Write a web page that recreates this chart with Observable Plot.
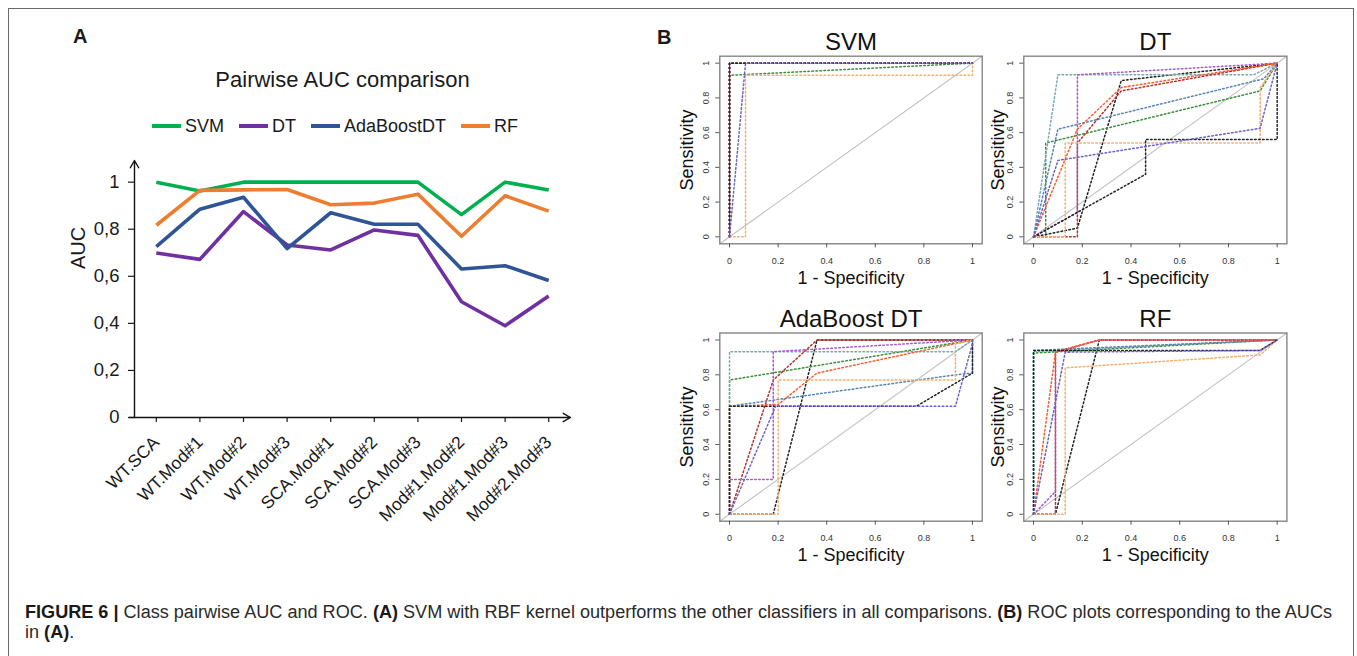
<!DOCTYPE html>
<html>
<head>
<meta charset="utf-8">
<script src="https://cdn.jsdelivr.net/npm/d3@7"></script>
<script src="https://cdn.jsdelivr.net/npm/@observablehq/plot@0.6"></script>
<style>
  html, body { margin: 0; padding: 0; background: #fff; }
  #page { position: relative; width: 1357px; height: 656px; overflow: hidden; background: #fff;
          font-family: "Liberation Sans", Arial, Helvetica, sans-serif; color: #1a1a1a; }
  .abs { position: absolute; }
  #frame { left: 8px; top: 8px; width: 1346px; height: 700px; border: 1.5px solid #6a6a6a; box-sizing: border-box; }
  .panelLabel { font-weight: bold; font-size: 20px; line-height: 20px; }
  #titleA { left: 0; width: 685px; top: 67px; text-align: center; font-size: 22px; line-height: 26px; }
  #legendA { left: 152px; top: 114px; display: flex; align-items: center; font-size: 18px; line-height: 24px; }
  .legItem { display: flex; align-items: center; margin-right: 15px; }
  .legSw { width: 29px; height: 4px; margin-right: 4px; }
  .capLine { left: 25px; font-size: 18px; line-height: 18px; white-space: nowrap; color: #2a2a2a; transform-origin: 0 0; }
  .capLine b { color: #1a1a1a; }
</style>
</head>
<body>
<div id="page">
  <div id="frame" class="abs"></div>
  <div class="abs panelLabel" style="left:73px; top:25.5px;">A</div>
  <div class="abs panelLabel" style="left:657px; top:26.5px;">B</div>
  <div id="titleA" class="abs">Pairwise AUC comparison</div>
  <div id="legendA" class="abs"></div>
  <div id="chartA" class="abs" style="left:0; top:140px;"></div>
  <div id="rocSVM" class="abs" style="left:680px; top:20px;"></div>
  <div id="rocDT" class="abs" style="left:980px; top:20px;"></div>
  <div id="rocADA" class="abs" style="left:680px; top:297px;"></div>
  <div id="rocRF" class="abs" style="left:980px; top:297px;"></div>
  <div id="cap1" class="abs capLine" style="top:603px;"><b>FIGURE 6 |</b> Class pairwise AUC and ROC. <b>(A)</b> SVM with RBF kernel outperforms the other classifiers in all comparisons. <b>(B)</b> ROC plots corresponding to the AUCs</div>
  <div id="cap2" class="abs capLine" style="top:623px;">in <b>(A)</b>.</div>
</div>
<script>
// ---------- Panel A data ----------
const categories = ["WT.SCA", "WT.Mod#1", "WT.Mod#2", "WT.Mod#3", "SCA.Mod#1", "SCA.Mod#2", "SCA.Mod#3", "Mod#1.Mod#2", "Mod#1.Mod#3", "Mod#2.Mod#3"];
const models = ["SVM", "DT", "AdaBoostDT", "RF"];
const aucSVM = [1.0, 0.962, 1.0, 1.0, 1.0, 1.0, 1.0, 0.862, 1.0, 0.967];
const aucDT = [0.699, 0.672, 0.875, 0.733, 0.712, 0.797, 0.774, 0.492, 0.390, 0.516];
const aucAda = [0.726, 0.885, 0.936, 0.718, 0.870, 0.821, 0.821, 0.631, 0.645, 0.582];
const aucRF = [0.817, 0.965, 0.967, 0.969, 0.904, 0.911, 0.949, 0.770, 0.942, 0.877];
const yTicksA = [0, 0.2, 0.4, 0.6, 0.8, 1];

// ---------- Panel B data (ROC curves, one per class pair, in category order) ----------
// each entry: [false-positive-rate points, true-positive-rate points]
const rocSVM = [
  [[0, 0, 1], [0, 1, 1]],
  [[0, 0, 1], [0, 0.93, 1]],
  [[0, 0, 1], [0, 1, 1]],
  [[0, 0, 1], [0, 1, 1]],
  [[0, 0, 1], [0, 1, 1]],
  [[0, 0, 1], [0, 1, 1]],
  [[0, 0, 1], [0, 1, 1]],
  [[0, 0.066, 0.066, 1, 1], [0, 0, 0.93, 0.93, 1]],
  [[0, 0, 1], [0, 1, 1]],
  [[0, 0.066, 1], [0, 1, 1]]
];
const rocDT = [
  [[0, 0.18, 0.36, 1], [0, 0.05, 0.9, 1]],
  [[0, 0.05, 0.05, 0.93, 1], [0, 0, 0.54, 0.84, 1]],
  [[0, 0.1, 0.904, 1], [0, 0.933, 0.933, 1]],
  [[0, 0.1, 0.945, 1], [0, 0.62, 0.91, 1]],
  [[0, 0.18, 0.18, 0.36, 1], [0, 0, 0.54, 0.84, 1]],
  [[0, 0.18, 0.18, 1], [0, 0.14, 0.933, 1]],
  [[0, 0.18, 0.36, 1], [0, 0.62, 0.86, 1]],
  [[0, 0.13, 0.13, 0.93, 0.93, 1], [0, 0, 0.54, 0.54, 0.86, 1]],
  [[0, 0.46, 0.46, 1, 1], [0, 0.36, 0.56, 0.56, 1]],
  [[0, 0.1, 0.93, 1], [0, 0.44, 0.625, 1]]
];
const rocADA = [
  [[0, 0.18, 0.36, 1], [0, 0, 1, 1]],
  [[0, 0, 1], [0, 0.77, 1]],
  [[0, 0, 0.93, 1], [0, 0.933, 0.933, 1]],
  [[0, 0, 0.93, 1, 1], [0, 0.62, 0.8, 0.81, 1]],
  [[0, 0.18, 0.36, 1], [0, 0.77, 1, 1]],
  [[0, 0, 0.18, 0.18, 1], [0, 0.2, 0.2, 0.933, 1]],
  [[0, 0, 0.2, 0.36, 1], [0, 0.62, 0.63, 0.81, 1]],
  [[0, 0.2, 0.2, 0.93, 0.93, 1], [0, 0, 0.77, 0.77, 0.98, 1]],
  [[0, 0, 0.77, 1, 1], [0, 0.62, 0.62, 0.81, 1]],
  [[0, 0.19, 0.93, 1, 1], [0, 0.62, 0.62, 0.98, 1]]
];
const rocRF = [
  [[0, 0.09, 0.27, 1], [0, 0, 1, 1]],
  [[0, 0, 1], [0, 0.925, 1]],
  [[0, 0, 1], [0, 0.935, 1]],
  [[0, 0, 1], [0, 0.94, 1]],
  [[0, 0.09, 0.09, 0.27, 1], [0, 0, 0.93, 1, 1]],
  [[0, 0.09, 0.09, 0.27, 1], [0, 0.13, 0.93, 1, 1]],
  [[0, 0.09, 0.27, 1], [0, 0.93, 1, 1]],
  [[0, 0.13, 0.13, 0.93, 1], [0, 0, 0.84, 0.914, 1]],
  [[0, 0, 0.93, 1], [0, 0.94, 0.94, 1]],
  [[0, 0.13, 0.93, 1], [0, 0.93, 0.94, 1]]
];
const rocTicks = [0, 0.2, 0.4, 0.6, 0.8, 1];

// ---------- styles ----------
const modelColors = ["#00b050", "#7030a0", "#2f5597", "#ed7d31"];
const pairColors = ["#222222", "#3a8f3a", "#74aab0", "#5585b8", "#b5302e", "#a65bcc", "#ff5a2a", "#f8ad6a", "#222222", "#6a62cc"];
const FONT = "'Liberation Sans', Arial, Helvetica, sans-serif";

// ---------- Legend ----------
const leg = document.getElementById("legendA");
models.forEach((m, i) => {
  const it = document.createElement("div");
  it.className = "legItem";
  it.innerHTML = `<div class="legSw" style="background:${modelColors[i]}"></div><span>${m}</span>`;
  leg.appendChild(it);
});

// ---------- Panel A chart ----------
const series = [aucSVM, aucDT, aucAda, aucRF];
const rowsA = series.flatMap((vals, k) => vals.map((v, i) => ({model: models[k], i, auc: v})));
const catIdx = d3.range(categories.length);
const xDomA = [-0.5, categories.length - 0.5];
const yDomA = [0, 1.092];

const chartA = Plot.plot({
  width: 600,
  height: 402,
  marginLeft: 134,
  marginRight: 30,
  marginTop: 20,
  marginBottom: 125,
  style: {background: "transparent", overflow: "visible", fontFamily: FONT, color: "#1a1a1a"},
  x: {domain: xDomA},
  y: {domain: yDomA},
  color: {domain: models, range: modelColors},
  marks: [
    Plot.axisY({ticks: yTicksA, tickFormat: () => "", tickSize: 6, label: null, stroke: "#1a1a1a", strokeWidth: 1.2}),
    Plot.axisX({ticks: catIdx, tickFormat: () => "", tickSize: 5, label: null, stroke: "#1a1a1a", strokeWidth: 1.2}),
    Plot.text(yTicksA, {y: d => d, text: d => String(d).replace(".", ","), frameAnchor: "left", textAnchor: "end", lineAnchor: "middle", dx: -15, fontSize: 18.5, fill: "#1a1a1a"}),
    Plot.text(["AUC"], {text: d => d, frameAnchor: "left", textAnchor: "middle", lineAnchor: "middle", dx: -56, dy: -41, rotate: -90, fontSize: 20, fill: "#1a1a1a"}),
    Plot.text(catIdx, {x: d => d, text: d => categories[d], frameAnchor: "bottom", textAnchor: "end", lineAnchor: "middle", dx: 0, dy: 22, rotate: -45, fontSize: 17.5, fill: "#1a1a1a"}),
    Plot.line(rowsA, {x: "i", y: "auc", z: "model", stroke: "model", strokeWidth: 3.6, strokeLinejoin: "round", strokeLinecap: "butt"}),
    Plot.arrow([0], {x1: () => xDomA[0], y1: () => yDomA[0], x2: () => xDomA[0], y2: () => yDomA[1], headLength: 9, strokeWidth: 1.4, stroke: "#111", inset: 0}),
    Plot.arrow([0], {x1: () => xDomA[0] - 0.12, y1: () => 0, x2: () => xDomA[1], y2: () => 0, headLength: 9, strokeWidth: 1.4, stroke: "#111", inset: 0})
  ]
});
document.getElementById("chartA").appendChild(chartA);

// ---------- ROC panels ----------
const rocDom = [-0.04, 1.04];
function rocPlot(title, curves, m) {
  const rows = curves.flatMap((c, k) => c[0].map((f, j) => ({pair: categories[k], fpr: f, tpr: c[1][j]})));
  const diag = rocDom.map(v => ({a: v}));
  return Plot.plot({
    width: 310,
    height: 270,
    marginLeft: m.ml,
    marginRight: m.mr,
    marginTop: m.mt,
    marginBottom: m.mb,
    style: {background: "transparent", overflow: "visible", fontFamily: FONT, color: "#333"},
    x: {domain: rocDom},
    y: {domain: rocDom},
    color: {domain: categories, range: pairColors},
    marks: [
      Plot.line(diag, {x: "a", y: "a", stroke: "#c2c2c2", strokeWidth: 1.1}),
      Plot.line(rows, {x: "fpr", y: "tpr", z: "pair", stroke: "pair", strokeWidth: 1.5, strokeDasharray: "1.6,2.4"}),
      Plot.frame({stroke: "#858585", strokeWidth: 1.4}),
      Plot.axisX({ticks: rocTicks, tickFormat: () => "", tickSize: 4, label: null, stroke: "#555"}),
      Plot.axisY({ticks: rocTicks, tickFormat: () => "", tickSize: 4, label: null, stroke: "#555"}),
      Plot.text(rocTicks, {x: d => d, text: d => String(d), frameAnchor: "bottom", textAnchor: "middle", lineAnchor: "middle", dy: 17, fontSize: 9, fill: "#333"}),
      Plot.text(rocTicks, {y: d => d, text: d => String(d), frameAnchor: "left", textAnchor: "middle", lineAnchor: "middle", dx: -13.5, rotate: -90, fontSize: 9, fill: "#333"}),
      Plot.text([title], {text: d => d, frameAnchor: "top", textAnchor: "middle", lineAnchor: "middle", dy: -14, fontSize: 24, fill: "#111"}),
      Plot.text(["1 - Specificity"], {text: d => d, frameAnchor: "bottom", textAnchor: "middle", lineAnchor: "middle", dy: 34, fontSize: 18, fill: "#111"}),
      Plot.text(["Sensitivity"], {text: d => d, frameAnchor: "left", textAnchor: "middle", lineAnchor: "middle", dx: m.sdx, rotate: -90, fontSize: 18, fill: "#111"})
    ]
  });
}
const leftCol = {ml: 39.3, mr: 8.3, sdx: -33};
const rightCol = {ml: 43.3, mr: 3.6, sdx: -26};
const topRow = {mt: 35.7, mb: 46.7};
const botRow = {mt: 35.5, mb: 46.3};
document.getElementById("rocSVM").appendChild(rocPlot("SVM", rocSVM, {...leftCol, ...topRow}));
document.getElementById("rocDT").appendChild(rocPlot("DT", rocDT, {...rightCol, ...topRow}));
document.getElementById("rocADA").appendChild(rocPlot("AdaBoost DT", rocADA, {...leftCol, ...botRow}));
document.getElementById("rocRF").appendChild(rocPlot("RF", rocRF, {...rightCol, ...botRow}));

// ---------- caption fit (condensed face) ----------
const cap1 = document.getElementById("cap1");
const cap2 = document.getElementById("cap2");
const w = cap1.getBoundingClientRect().width;
const s = 1307 / w;
cap1.style.transform = `scaleX(${s})`;
cap2.style.transform = `scaleX(${s})`;
</script>
</body>
</html>
